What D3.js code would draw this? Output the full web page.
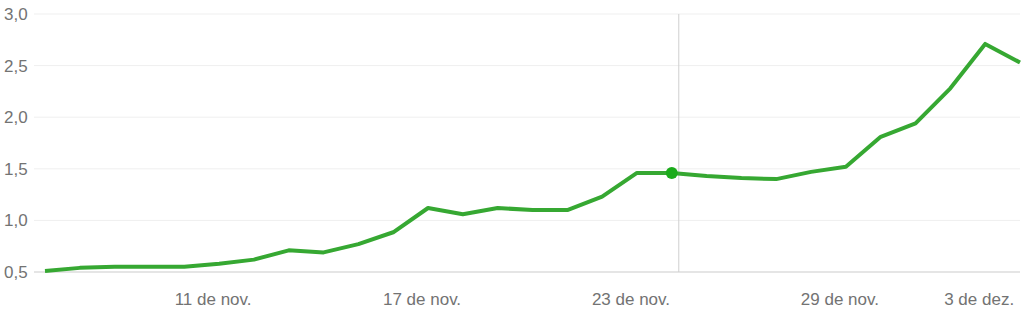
<!DOCTYPE html>
<html>
<head>
<meta charset="utf-8">
<script src="https://cdn.jsdelivr.net/npm/d3@7"></script>
<style>
  body { margin: 0; background: #fff; }
  svg text { font-family: "Liberation Sans", Arial, sans-serif; }
</style>
</head>
<body>
<svg id="chart" width="1024" height="314"></svg>
<script>
// daily values, 6 nov -> 4 dez
var startDate = new Date(2020, 10, 6);
var values = [0.51, 0.54, 0.55, 0.55, 0.55, 0.58, 0.62, 0.71, 0.69, 0.77,
              0.885, 1.12, 1.06, 1.12, 1.10, 1.10, 1.23, 1.46, 1.46, 1.43,
              1.41, 1.40, 1.47, 1.52, 1.81, 1.94, 2.28, 2.71, 2.53];
var yTicks = [0.5, 1.0, 1.5, 2.0, 2.5, 3.0];
var xTickDates = [new Date(2020, 10, 11), new Date(2020, 10, 17), new Date(2020, 10, 23),
                  new Date(2020, 10, 29), new Date(2020, 11, 3)];
var xTickLabels = ['11 de nov.', '17 de nov.', '23 de nov.', '29 de nov.', '3 de dez.'];
var highlightIndex = 18; // 24 nov

var data = values.map(function(v, i){
  return {date: d3.timeDay.offset(startDate, i), value: v};
});

var svg = d3.select('#chart');
var margin = {left: 34, right: 4, top: 14, bottom: 42};
var width = +svg.attr('width'), height = +svg.attr('height');

var x = d3.scaleTime()
    .domain(d3.extent(data, function(d){ return d.date; }))
    .range([45, width - margin.right]);
var y = d3.scaleLinear()
    .domain([0.5, 3.0])
    .range([height - margin.bottom, margin.top]);

// gridlines
svg.append('g').selectAll('line')
    .data(yTicks)
  .enter().append('line')
    .attr('x1', margin.left)
    .attr('x2', width - margin.right)
    .attr('y1', function(d){ return y(d); })
    .attr('y2', function(d){ return y(d); })
    .attr('stroke', function(d, i){ return i === 0 ? '#dcdcdc' : '#efefef'; })
    .attr('stroke-width', function(d, i){ return i === 0 ? 1.5 : 1; });

// y labels
svg.append('g').selectAll('text')
    .data(yTicks)
  .enter().append('text')
    .attr('x', 4)
    .attr('y', function(d){ return y(d); })
    .attr('dy', '0.35em')
    .attr('font-size', 17)
    .attr('fill', '#737373')
    .text(function(d){ return d3.format('.1f')(d).replace('.', ','); });

// x labels
svg.append('g').selectAll('text')
    .data(xTickDates)
  .enter().append('text')
    .attr('x', function(d){ return x(d) - 6; })
    .attr('y', height - 9)
    .attr('text-anchor', 'middle')
    .attr('font-size', 17)
    .attr('fill', '#737373')
    .text(function(d, i){ return xTickLabels[i]; });

// crosshair
var hx = x(data[highlightIndex].date) + 7;
svg.append('line')
    .attr('x1', hx).attr('x2', hx)
    .attr('y1', y(3.0)).attr('y2', y(0.5))
    .attr('stroke', '#cfcfcf')
    .attr('stroke-width', 1);

// line
var line = d3.line()
    .x(function(d){ return x(d.date); })
    .y(function(d){ return y(d.value); });

svg.append('path')
    .datum(data)
    .attr('d', line)
    .attr('fill', 'none')
    .attr('stroke', '#36a832')
    .attr('stroke-width', 4)
    .attr('stroke-linejoin', 'round');

svg.append('circle')
    .attr('cx', x(data[highlightIndex].date))
    .attr('cy', y(data[highlightIndex].value))
    .attr('r', 6)
    .attr('fill', '#1aab1a');
</script>
</body>
</html>
